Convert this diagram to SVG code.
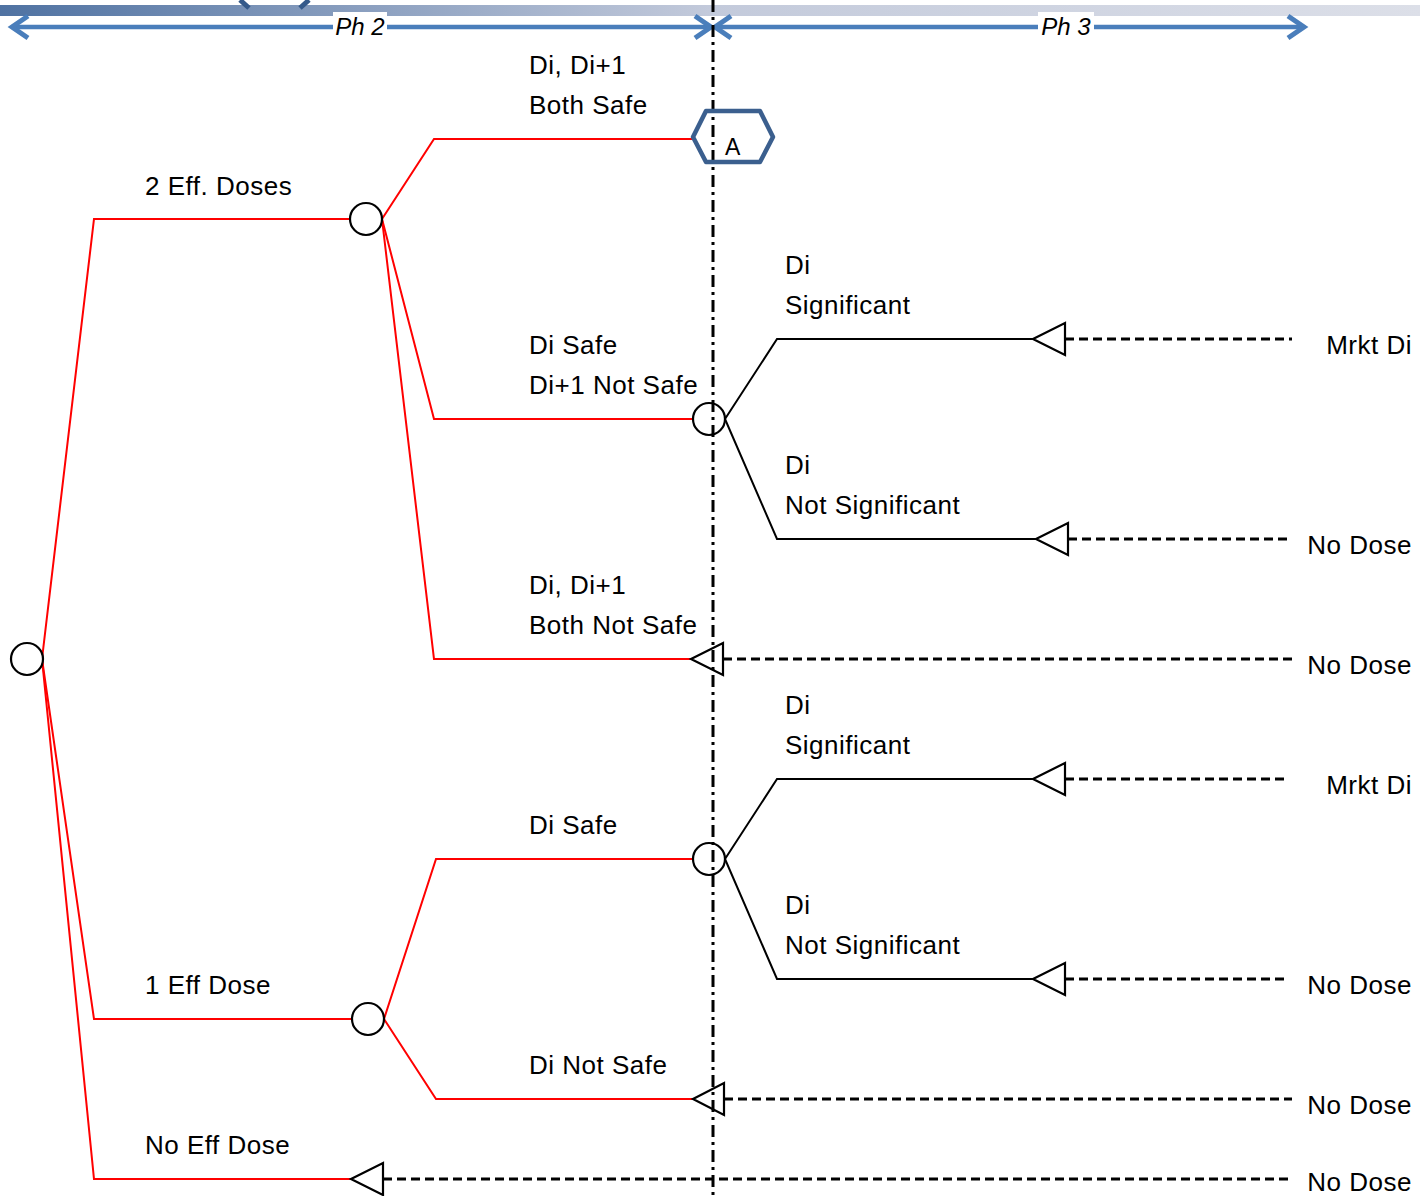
<svg xmlns="http://www.w3.org/2000/svg" width="1420" height="1196" viewBox="0 0 1420 1196">
  <defs>
    <linearGradient id="topBar" x1="0" y1="0" x2="1" y2="0">
      <stop offset="0" stop-color="#4f72a2"/>
      <stop offset="0.5" stop-color="#c3cadb"/>
      <stop offset="1" stop-color="#dcdfe8"/>
    </linearGradient>
    <style>
      .lbl { font-family: "Liberation Sans", Arial, sans-serif; font-size: 26px; letter-spacing: 0.5px; fill: #000; }
      .end { text-anchor: end; }
      .ph { font-family: "Liberation Sans", Arial, sans-serif; font-size: 24px; font-style: italic; fill: #000; text-anchor: middle; }
      .red { fill: none; stroke: #ff0000; stroke-width: 2; }
      .blk { fill: none; stroke: #000; stroke-width: 2; }
      .dash { fill: none; stroke: #000; stroke-width: 3; stroke-dasharray: 9 5; }
      .chance { fill: #fff; stroke: #000; stroke-width: 2.2; }
      .term { fill: #fff; stroke: #000; stroke-width: 2.2; stroke-linejoin: miter; }
      .span { fill: none; stroke: #4a7ebb; stroke-width: 4.5; stroke-linecap: butt; }
      .chev { fill: none; stroke: #4a7ebb; stroke-width: 5; stroke-linejoin: miter; }
    </style>
  </defs>

  <!-- header strip -->
  <g id="header">
    <rect x="0" y="5" width="1420" height="11" fill="url(#topBar)"/>
    <path d="M240,0 L249,8 M309,0 L300,8" fill="none" stroke="#34598a" stroke-width="5"/>
  </g>

  <!-- phase spans -->
  <g id="phase2">
    <line class="span" x1="12" y1="27" x2="710" y2="27"/>
    <polyline class="chev" points="28,16 12,27 28,38"/>
    <polyline class="chev" points="695,16 711,27 695,38"/>
    <rect x="333" y="12" width="54" height="28" fill="#fff"/>
    <text class="ph" x="360" y="35">Ph 2</text>
  </g>
  <g id="phase3">
    <line class="span" x1="716" y1="27" x2="1303" y2="27"/>
    <polyline class="chev" points="731,16 715,27 731,38"/>
    <polyline class="chev" points="1288,16 1304,27 1288,38"/>
    <rect x="1038" y="12" width="56" height="28" fill="#fff"/>
    <text class="ph" x="1066" y="35">Ph 3</text>
  </g>

  <!-- connectors -->
  <g id="connectors">
    <!-- from root -->
    <polyline class="red" points="42,659 94,219 350,219"/>
    <polyline class="red" points="42,659 94,1019 352,1019"/>
    <polyline class="red" points="42,659 94,1179 351,1179"/>
    <!-- from 2 Eff. Doses -->
    <polyline class="red" points="382,219 434,139 693,139"/>
    <polyline class="red" points="382,219 434,419 693,419"/>
    <polyline class="red" points="382,219 434,659 691,659"/>
    <!-- from 1 Eff Dose -->
    <polyline class="red" points="384,1019 436,859 693,859"/>
    <polyline class="red" points="384,1019 436,1099 693,1099"/>
    <!-- phase 3 outcomes -->
    <polyline class="blk" points="725,419 777,339 1033,339"/>
    <polyline class="blk" points="725,419 777,539 1036,539"/>
    <polyline class="blk" points="725,859 777,779 1033,779"/>
    <polyline class="blk" points="725,859 777,979 1033,979"/>
    <!-- payoff leaders -->
    <line class="dash" x1="1065" y1="339" x2="1292" y2="339"/>
    <line class="dash" x1="1068" y1="539" x2="1288" y2="539"/>
    <line class="dash" x1="723" y1="659" x2="1292" y2="659"/>
    <line class="dash" x1="1065" y1="779" x2="1288" y2="779"/>
    <line class="dash" x1="1065" y1="979" x2="1288" y2="979"/>
    <line class="dash" x1="724" y1="1099" x2="1292" y2="1099"/>
    <line class="dash" x1="383" y1="1179" x2="1288" y2="1179"/>
  </g>

  <!-- chance nodes -->
  <g id="root"><circle class="chance" cx="27" cy="659" r="16"/></g>
  <g id="two-eff"><circle class="chance" cx="366" cy="219" r="16"/></g>
  <g id="one-eff"><circle class="chance" cx="368" cy="1019" r="16"/></g>
  <g id="di-safe-1"><circle class="chance" cx="709" cy="419" r="16"/></g>
  <g id="di-safe-2"><circle class="chance" cx="709" cy="859" r="16"/></g>

  <!-- terminal nodes -->
  <g id="t-mrkt-1"><polygon class="term" points="1033,339 1065,323 1065,355"/></g>
  <g id="t-nodose-1"><polygon class="term" points="1036,539 1068,523 1068,555"/></g>
  <g id="t-nodose-2"><polygon class="term" points="691,659 723,643 723,675"/></g>
  <g id="t-mrkt-2"><polygon class="term" points="1033,779 1065,763 1065,795"/></g>
  <g id="t-nodose-3"><polygon class="term" points="1033,979 1065,963 1065,995"/></g>
  <g id="t-nodose-4"><polygon class="term" points="693,1099 724,1083 724,1115"/></g>
  <g id="t-nodose-5"><polygon class="term" points="351,1179 383,1163 383,1195"/></g>

  <!-- phase boundary -->
  <g id="boundary">
    <line x1="713" y1="0" x2="713" y2="1196" stroke="#000" stroke-width="3" stroke-dasharray="12 5 3 5"/>
  </g>

  <!-- connector A -->
  <g id="connector-a">
    <polygon points="693,137 706,111 760,111 773,137 760,162 706,162" fill="none" stroke="#3b5f8e" stroke-width="4.5" stroke-linejoin="round"/>
    <text x="725" y="155" font-family="'Liberation Sans', Arial, sans-serif" font-size="23" fill="#000">A</text>
  </g>

  <!-- branch labels -->
  <g id="labels">
    <text class="lbl" x="529" y="74">Di, Di+1</text>
    <text class="lbl" x="529" y="114">Both Safe</text>
    <text class="lbl" x="145" y="195">2 Eff. Doses</text>
    <text class="lbl" x="785" y="274">Di</text>
    <text class="lbl" x="785" y="314">Significant</text>
    <text class="lbl" x="529" y="354">Di Safe</text>
    <text class="lbl" x="529" y="394">Di+1 Not Safe</text>
    <text class="lbl end" x="1412" y="354">Mrkt Di</text>
    <text class="lbl" x="785" y="474">Di</text>
    <text class="lbl" x="785" y="514">Not Significant</text>
    <text class="lbl end" x="1412" y="554">No Dose</text>
    <text class="lbl" x="529" y="594">Di, Di+1</text>
    <text class="lbl" x="529" y="634">Both Not Safe</text>
    <text class="lbl end" x="1412" y="674">No Dose</text>
    <text class="lbl" x="785" y="714">Di</text>
    <text class="lbl" x="785" y="754">Significant</text>
    <text class="lbl end" x="1412" y="794">Mrkt Di</text>
    <text class="lbl" x="529" y="834">Di Safe</text>
    <text class="lbl" x="785" y="914">Di</text>
    <text class="lbl" x="785" y="954">Not Significant</text>
    <text class="lbl" x="145" y="994">1 Eff Dose</text>
    <text class="lbl end" x="1412" y="994">No Dose</text>
    <text class="lbl" x="529" y="1074">Di Not Safe</text>
    <text class="lbl end" x="1412" y="1114">No Dose</text>
    <text class="lbl" x="145" y="1154">No Eff Dose</text>
    <text class="lbl end" x="1412" y="1191">No Dose</text>
  </g>
</svg>
